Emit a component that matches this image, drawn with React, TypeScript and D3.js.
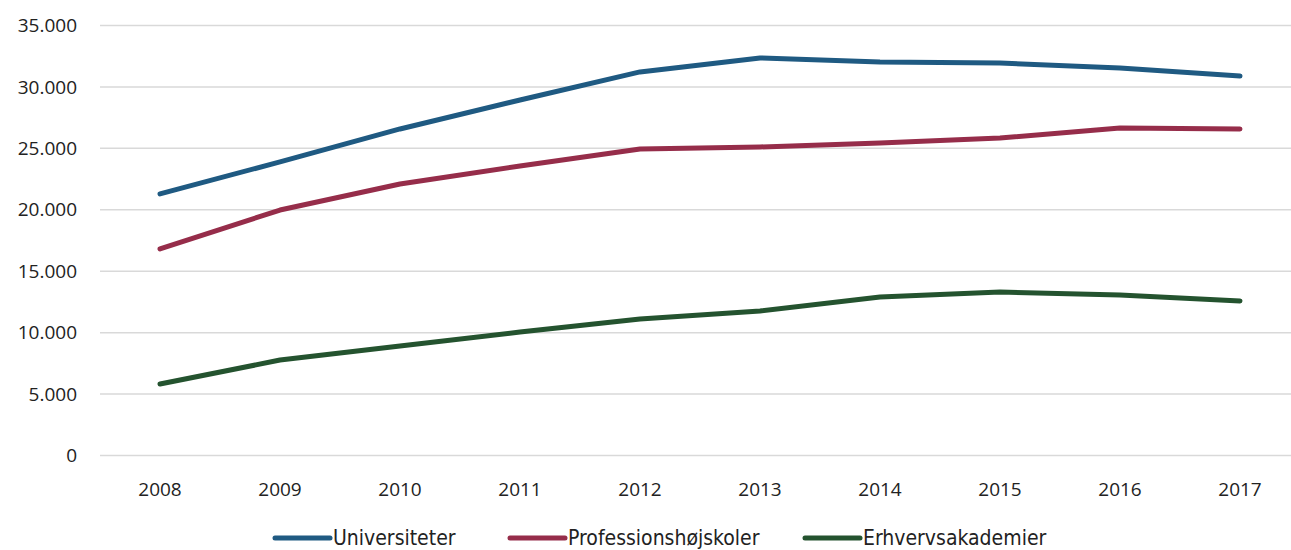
import * as d3 from 'd3';

const years = ['2008', '2009', '2010', '2011', '2012', '2013', '2014', '2015', '2016', '2017'];
const universiteter = [21290, 23900, 26580, 28940, 31220, 32360, 32030, 31950, 31540, 30890];
const professionshojskoler = [16810, 19980, 22100, 23570, 24950, 25110, 25440, 25840, 26660, 26580];
const erhvervsakademier = [5820, 7770, 8910, 10050, 11110, 11760, 12900, 13310, 13060, 12580];
const yTicks = [0, 5000, 10000, 15000, 20000, 25000, 30000, 35000];

const series = [
  { name: 'Universiteter', values: universiteter, color: '#1f5a82' },
  { name: 'Professionshøjskoler', values: professionshojskoler, color: '#962d4a' },
  { name: 'Erhvervsakademier', values: erhvervsakademier, color: '#24532f' },
];

const legendX = [275, 510, 805];

const fmt = (v: number) => d3.format(',')(v).replace(/,/g, '.');

export default function App() {
  const width = 1291;
  const height = 550;

  const x = d3.scalePoint<string>().domain(years).range([100, 1300]).padding(0.5);
  const y = d3.scaleLinear().domain([0, 35000]).range([455.5, 25.5]);

  const line = d3.line<number>()
    .x((_, i) => x(years[i]) as number)
    .y(d => y(d));

  const font = "'Open Sans', 'Noto Sans', sans-serif";

  return (
    <svg width={width} height={height} style={{ position: 'absolute', left: 0, top: 0, background: '#fff' }}>
      {yTicks.map(t => (
        <g key={t}>
          <line x1={100} x2={1291} y1={y(t)} y2={y(t)} stroke="#d9d9d9" strokeWidth={1.5} />
          <text x={77} y={y(t)} dy="0.35em" textAnchor="end" fontFamily={font} fontSize={19} fill="#222">
            {fmt(t)}
          </text>
        </g>
      ))}
      {years.map(yr => (
        <text key={yr} x={x(yr)} y={489} dy="0.35em" textAnchor="middle" fontFamily={font} fontSize={19} fill="#222">
          {yr}
        </text>
      ))}
      {series.map(s => (
        <path key={s.name} d={line(s.values) || ''} fill="none" stroke={s.color} strokeWidth={5} strokeLinecap="round" strokeLinejoin="round" />
      ))}
      {series.map((s, i) => (
        <g key={s.name} transform={`translate(${legendX[i]},538)`}>
          <line x1={0} x2={55} y1={0} y2={0} stroke={s.color} strokeWidth={5} strokeLinecap="round" />
          <text x={58} y={0} dy="0.33em" fontFamily="'Liberation Sans Narrow', 'DejaVu Sans Condensed', sans-serif" fontSize={21} fill="#222">
            {s.name}
          </text>
        </g>
      ))}
    </svg>
  );
}
